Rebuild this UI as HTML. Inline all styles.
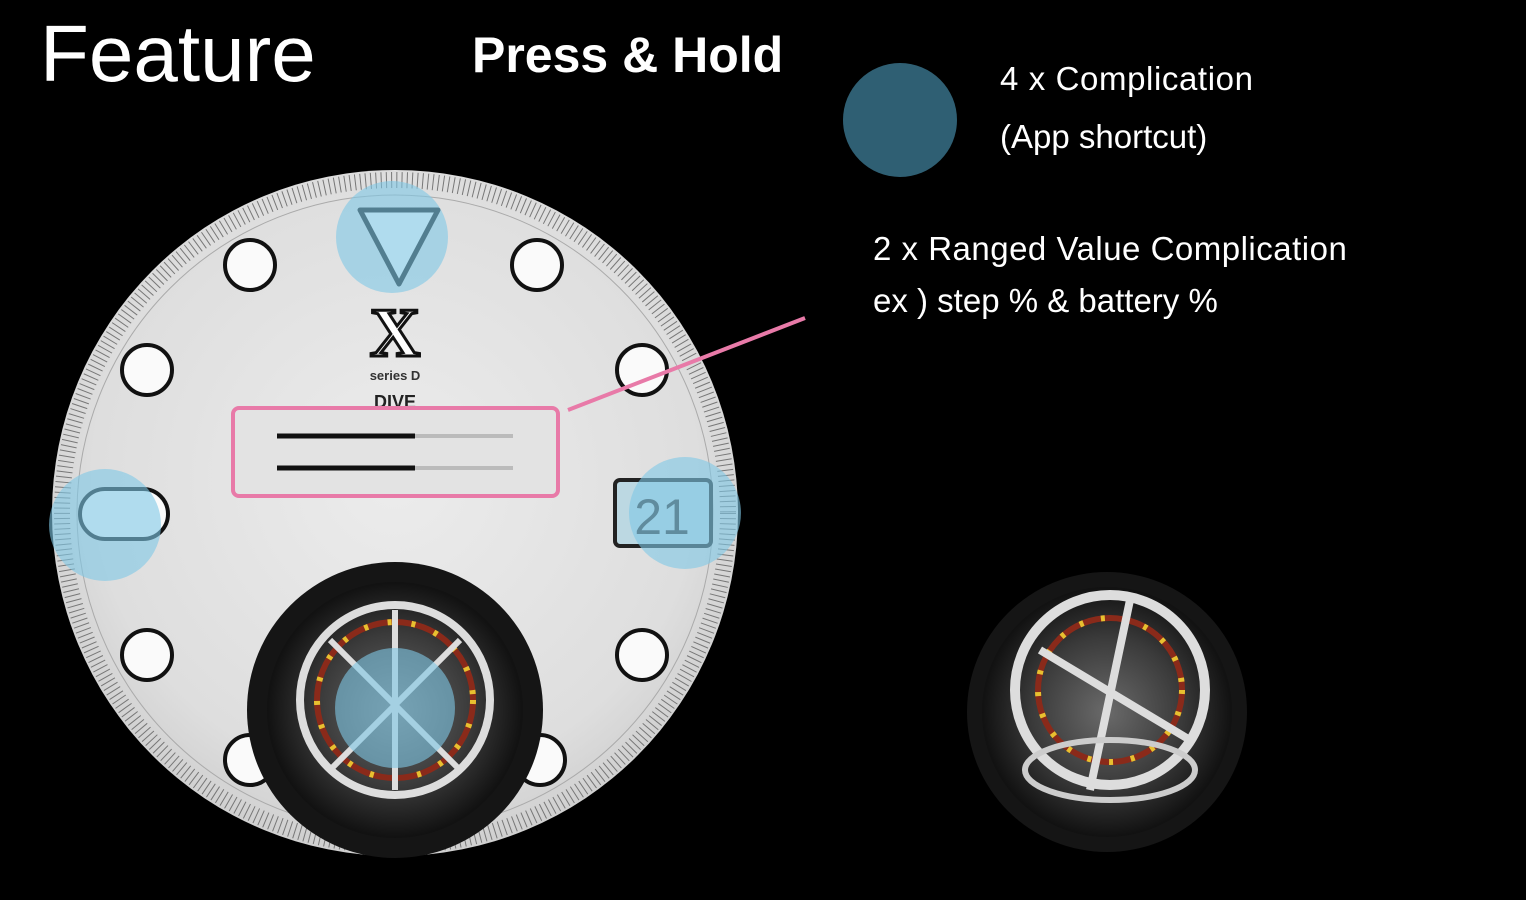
<!DOCTYPE html>
<html><head><meta charset="utf-8"><style>
html,body{margin:0;padding:0;background:#000;}
body{width:1526px;height:900px;overflow:hidden;position:relative;font-family:"Liberation Sans",sans-serif;color:#fff;}
.t{position:absolute;white-space:nowrap;}
</style></head><body>
<svg width="1526" height="900" style="position:absolute;left:0;top:0">
<defs>
<radialGradient id="dial" cx="50%" cy="45%" r="55%">
<stop offset="0" stop-color="#ececec"/><stop offset="0.8" stop-color="#dedede"/><stop offset="1" stop-color="#cfcfcf"/>
</radialGradient>
<radialGradient id="tb" cx="50%" cy="50%" r="50%">
<stop offset="0" stop-color="#6a6a6a"/><stop offset="0.6" stop-color="#3a3a3a"/><stop offset="1" stop-color="#111"/>
</radialGradient>
</defs>
<circle cx="395" cy="513" r="343" fill="url(#dial)"/>
<circle cx="395" cy="513" r="333" fill="none" stroke="#777" stroke-width="16" stroke-dasharray="1 4.2"/>
<circle cx="395" cy="513" r="318" fill="none" stroke="#aaa" stroke-width="1"/>
<g fill="#fafafa" stroke="#111" stroke-width="4">
<circle cx="250" cy="265" r="25"/><circle cx="537" cy="265" r="25"/>
<circle cx="147" cy="370" r="25"/><circle cx="642" cy="370" r="25"/>
<circle cx="147" cy="655" r="25"/><circle cx="642" cy="655" r="25"/>
<circle cx="250" cy="760" r="25"/><circle cx="540" cy="760" r="25"/>
<rect x="80" y="489" width="88" height="50" rx="25"/>
</g>
<polygon points="360,210 438,210 399,284" fill="#fafafa" stroke="#111" stroke-width="5" stroke-linejoin="round"/>
<text x="395" y="356" text-anchor="middle" font-family="Liberation Serif" font-weight="bold" font-size="70" fill="#fff" stroke="#111" stroke-width="3">X</text>
<text x="395" y="380" text-anchor="middle" font-size="13" font-weight="bold" fill="#333">series D</text>
<text x="395" y="408" text-anchor="middle" font-size="18" font-weight="bold" fill="#222">DIVE</text>
<rect x="233" y="408" width="325" height="88" rx="6" fill="#e3e3e3" stroke="#e87aa8" stroke-width="4"/>
<line x1="277" y1="436" x2="513" y2="436" stroke="#bbb" stroke-width="4"/>
<line x1="277" y1="436" x2="415" y2="436" stroke="#111" stroke-width="5"/>
<line x1="277" y1="468" x2="513" y2="468" stroke="#bbb" stroke-width="4"/>
<line x1="277" y1="468" x2="415" y2="468" stroke="#111" stroke-width="5"/>
<line x1="568" y1="410" x2="805" y2="318" stroke="#e87aa8" stroke-width="4"/>
<rect x="615" y="480" width="96" height="66" rx="5" fill="#bcd8e2" stroke="#222" stroke-width="4"/>
<text x="662" y="534" text-anchor="middle" font-size="50" fill="#333">21</text>
<circle cx="395" cy="710" r="148" fill="#151515"/>
<circle cx="395" cy="710" r="128" fill="url(#tb)"/>
<circle cx="395" cy="700" r="95" fill="none" stroke="#ddd" stroke-width="8"/>
<circle cx="395" cy="700" r="78" fill="none" stroke="#8a2a1a" stroke-width="6"/>
<circle cx="395" cy="700" r="78" fill="none" stroke="#e8c030" stroke-width="6" stroke-dasharray="4 20"/>
<g stroke="#ddd" stroke-width="6"><line x1="330" y1="640" x2="460" y2="770"/><line x1="460" y1="640" x2="330" y2="770"/><line x1="395" y1="610" x2="395" y2="790"/></g>
<g fill="#7ec8e6" opacity="0.6">
<circle cx="392" cy="237" r="56"/><circle cx="105" cy="525" r="56"/>
<circle cx="685" cy="513" r="56"/><circle cx="395" cy="708" r="60"/>
</g>
<circle cx="900" cy="120" r="57" fill="#2f5f73"/>
<circle cx="1107" cy="712" r="140" fill="#151515"/>
<circle cx="1107" cy="712" r="125" fill="url(#tb)"/>
<circle cx="1110" cy="690" r="95" fill="none" stroke="#ddd" stroke-width="10"/>
<circle cx="1110" cy="690" r="72" fill="none" stroke="#8a2a1a" stroke-width="6"/>
<circle cx="1110" cy="690" r="72" fill="none" stroke="#e8c030" stroke-width="6" stroke-dasharray="4 18"/>
<g stroke="#ddd" stroke-width="8"><line x1="1040" y1="650" x2="1190" y2="740"/><line x1="1130" y1="600" x2="1090" y2="790"/></g>
<ellipse cx="1110" cy="770" rx="85" ry="30" fill="none" stroke="#ccc" stroke-width="6"/>
</svg>
<div class="t" style="left:40px;top:8px;font-size:80px;">Feature</div>
<div class="t" style="left:472px;top:26px;font-size:50px;font-weight:bold;">Press &amp; Hold</div>
<div class="t" style="left:1000px;top:60px;font-size:33px;letter-spacing:0.6px;">4 x Complication</div>
<div class="t" style="left:1000px;top:118px;font-size:33px;">(App shortcut)</div>
<div class="t" style="left:873px;top:230px;font-size:33px;letter-spacing:0.5px;">2 x Ranged Value Complication</div>
<div class="t" style="left:873px;top:282px;font-size:33px;">ex ) step % &amp; battery %</div>
</body></html>
